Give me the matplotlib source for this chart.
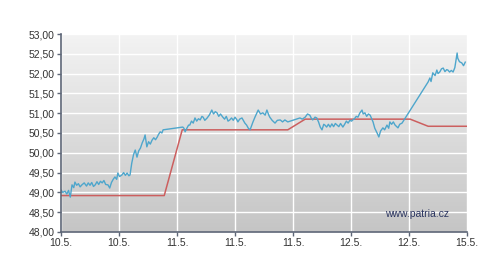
import numpy as np
import matplotlib
matplotlib.use("Agg")
import matplotlib.pyplot as plt
from matplotlib.colors import LinearSegmentedColormap

plt.rcParams['font.family'] = ['Liberation Sans', 'DejaVu Sans']

tick_labels = ["10.5.", "10.5.", "11.5.", "11.5.", "11.5.", "12.5.", "12.5.", "15.5."]
y_ticks = [48.0, 48.5, 49.0, 49.5, 50.0, 50.5, 51.0, 51.5, 52.0, 52.5, 53.0]

red_x = [0.00, 1.78, 2.09, 3.91, 4.21, 6.02, 6.33, 7.00]
red_y = [48.92, 48.92, 50.58, 50.58, 50.85, 50.85, 50.67, 50.67]

blue_x = [0.00,0.03,0.07,0.10,0.13,0.16,0.19,0.22,0.24,0.27,0.30,0.33,0.36,0.40,0.44,0.47,0.50,0.53,0.56,0.59,
          0.62,0.65,0.68,0.71,0.74,0.77,0.81,0.84,0.87,0.90,0.93,0.96,0.98,1.01,1.05,1.08,1.11,1.14,1.17,1.19,
          1.22,1.25,1.28,1.31,1.34,1.37,1.40,1.43,1.45,1.48,1.51,1.54,1.57,1.60,1.63,1.66,1.68,1.71,1.74,1.76,
          2.10,2.12,2.14,2.17,2.20,2.22,2.25,2.28,2.31,2.34,2.37,2.40,2.43,2.45,2.48,2.52,2.56,2.60,2.63,2.66,
          2.69,2.72,2.75,2.79,2.82,2.85,2.88,2.91,2.94,2.97,3.00,3.03,3.05,3.08,3.12,3.15,3.17,3.20,3.23,3.26,
          3.29,3.31,3.35,3.40,3.44,3.48,3.52,3.55,3.58,3.60,3.64,3.69,3.73,3.78,3.82,3.86,3.89,3.91,
          4.12,4.16,4.21,4.25,4.29,4.32,4.34,4.38,4.41,4.44,4.47,4.50,4.53,4.55,4.58,4.61,4.64,4.67,4.70,4.73,
          4.76,4.79,4.82,4.86,4.89,4.92,4.95,4.98,5.01,5.03,5.06,5.09,5.12,5.15,5.19,5.21,5.24,5.27,5.30,5.33,
          5.36,5.38,5.41,5.45,5.48,5.51,5.55,5.58,5.62,5.65,5.67,5.70,5.73,5.76,5.79,5.81,5.84,5.88,
          6.33,6.36,6.38,6.41,6.45,6.48,6.50,6.53,6.56,6.59,6.62,6.65,6.67,6.70,6.73,6.76,6.79,6.83,6.84,6.87,
          6.91,6.94,6.97]
blue_y = [49.06,49.00,49.03,48.96,49.05,48.88,49.19,49.12,49.26,49.18,49.22,49.14,49.19,49.24,49.16,49.24,49.18,49.25,49.15,49.19,
          49.27,49.20,49.28,49.24,49.30,49.20,49.19,49.11,49.25,49.33,49.39,49.33,49.49,49.40,49.44,49.50,49.43,49.49,49.42,49.44,
          49.74,49.95,50.07,49.89,50.05,50.12,50.25,50.35,50.45,50.15,50.28,50.22,50.32,50.38,50.33,50.40,50.46,50.53,50.50,50.58,
          50.65,50.62,50.53,50.62,50.70,50.70,50.80,50.75,50.88,50.80,50.86,50.83,50.92,50.90,50.82,50.88,50.96,51.08,50.98,51.04,
          51.01,50.92,50.98,50.90,50.85,50.92,50.80,50.83,50.88,50.82,50.90,50.84,50.78,50.85,50.88,50.80,50.75,50.70,50.62,50.58,
          50.70,50.78,50.92,51.08,50.98,51.01,50.95,51.08,50.96,50.90,50.82,50.75,50.82,50.83,50.78,50.83,50.80,50.78,
          50.88,50.85,50.90,50.98,50.95,50.86,50.83,50.90,50.88,50.78,50.65,50.58,50.72,50.70,50.65,50.72,50.65,50.73,50.66,50.74,
          50.70,50.66,50.74,50.65,50.72,50.80,50.75,50.82,50.80,50.83,50.86,50.92,50.90,51.00,51.08,50.98,51.01,50.92,50.98,50.95,
          50.85,50.78,50.62,50.50,50.40,50.55,50.63,50.58,50.70,50.62,50.78,50.72,50.78,50.70,50.66,50.63,50.72,50.75,
          51.79,51.89,51.80,52.02,51.95,52.09,52.00,52.04,52.12,52.14,52.05,52.10,52.09,52.04,52.08,52.04,52.15,52.52,52.39,52.30,
          52.27,52.20,52.29]

fig = plt.figure(figsize=(5.0, 2.58), dpi=100)
ax = fig.add_axes([0.122, 0.1008, 0.812, 0.7674])

# gradient background: light at top, darker at bottom
grad = np.linspace(0, 1, 256).reshape(-1, 1)
cmap = LinearSegmentedColormap.from_list("bg", ["#f3f3f3", "#c5c5c5"])
ax.imshow(grad, cmap=cmap, aspect='auto', extent=[0, 1, 0, 1], origin='upper',
          transform=ax.transAxes, zorder=0)

ax.set_xlim(0, 7)
ax.set_ylim(48, 53)
ax.set_xticks(range(8))
ax.set_xticklabels(tick_labels)
ax.set_yticks(y_ticks)
ax.set_yticklabels([f"{v:.2f}".replace(".", ",") for v in y_ticks])

ax.grid(True, color="white", linewidth=1.0, zorder=1)
ax.set_axisbelow(False)

ax.plot(red_x, red_y, color="#cc5f5f", linewidth=1.1, zorder=3)
ax.plot(blue_x, blue_y, color="#4ea6cc", linewidth=1.0, zorder=4)

for s in ["top", "right"]:
    ax.spines[s].set_visible(False)
for s in ["left", "bottom"]:
    ax.spines[s].set_color("#5d6677")
    ax.spines[s].set_linewidth(1.2)
    ax.spines[s].set_zorder(5)

ax.tick_params(axis="both", direction="out", length=3, width=1, color="#5d6677",
               labelsize=7.5, labelcolor="#333333", pad=1.5)

ax.text(0.955, 0.09, "www.patria.cz", transform=ax.transAxes, ha="right", va="center",
        fontsize=7.5, color="#2b3560", zorder=6)

fig.savefig("out.png", dpi=100)
